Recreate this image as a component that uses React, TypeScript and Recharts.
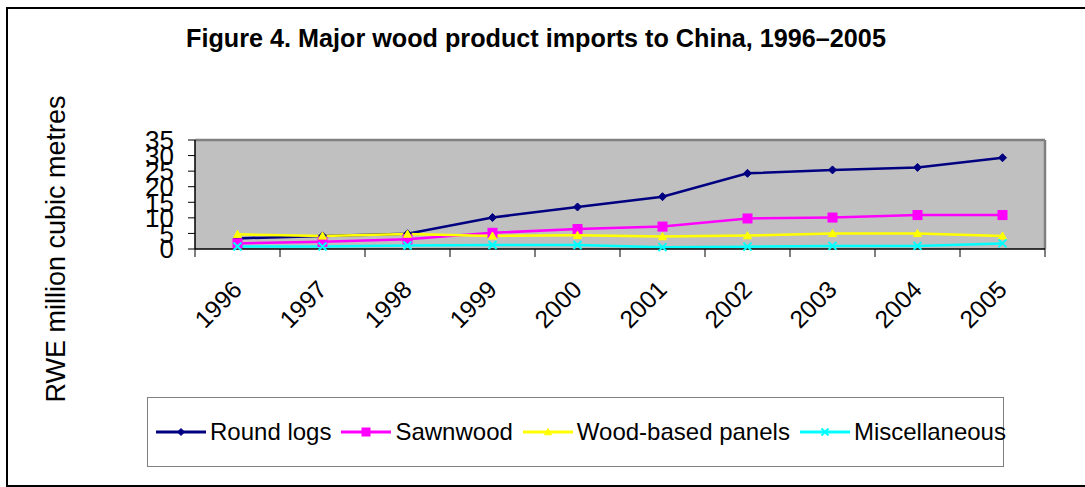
import React from 'react';
import { LineChart, Line, XAxis, YAxis, CartesianGrid, ReferenceLine } from 'recharts';

// Import volumes, RWE million cubic metres
const years = ['1996', '1997', '1998', '1999', '2000', '2001', '2002', '2003', '2004', '2005'];
const roundLogs = [3.4, 4.2, 4.9, 10.1, 13.5, 16.8, 24.3, 25.4, 26.2, 29.3];
const sawnwood = [1.8, 2.3, 3.1, 5.2, 6.4, 7.2, 9.8, 10.1, 10.9, 10.9];
const panels = [4.7, 4.2, 4.8, 4.2, 4.4, 4.0, 4.3, 5.0, 5.0, 4.2];
const misc = [0.8, 0.8, 1.1, 1.3, 1.3, 0.6, 0.75, 1.0, 1.0, 1.8];
const yTicks = [0, 5, 10, 15, 20, 25, 30, 35];

const FONT = '"Liberation Sans", Arial, Helvetica, sans-serif';

type MarkerKind = 'diamond' | 'square' | 'triangle' | 'cross';

const series: { key: string; name: string; color: string; marker: MarkerKind }[] = [
  { key: 'roundLogs', name: 'Round logs', color: '#000080', marker: 'diamond' },
  { key: 'sawnwood', name: 'Sawnwood', color: '#FF00FF', marker: 'square' },
  { key: 'panels', name: 'Wood-based panels', color: '#FFFF00', marker: 'triangle' },
  { key: 'misc', name: 'Miscellaneous', color: '#00FFFF', marker: 'cross' },
];

const data = years.map((year, i) => ({
  pos: i + 0.5,
  year,
  roundLogs: roundLogs[i],
  sawnwood: sawnwood[i],
  panels: panels[i],
  misc: misc[i],
}));

// category boundaries carry tick marks, category centres carry the year labels
const xTicks = years.flatMap((_, i) => [i, i + 0.5]).concat([years.length]);

function Marker({ kind, cx, cy, color, size }: { kind: MarkerKind; cx: number; cy: number; color: string; size: number }) {
  const h = size / 2;
  switch (kind) {
    case 'diamond':
      return <polygon points={`${cx},${cy - h} ${cx + h},${cy} ${cx},${cy + h} ${cx - h},${cy}`} fill={color} stroke={color} strokeWidth={1} />;
    case 'square':
      return <rect x={cx - h} y={cy - h} width={size} height={size} fill={color} stroke={color} strokeWidth={1} />;
    case 'triangle':
      return <polygon points={`${cx},${cy - h} ${cx + h},${cy + h * 0.8} ${cx - h},${cy + h * 0.8}`} fill={color} stroke={color} strokeWidth={1} />;
    case 'cross':
    default:
      return <path d={`M${cx - h},${cy - h}L${cx + h},${cy + h}M${cx + h},${cy - h}L${cx - h},${cy + h}`} stroke={color} strokeWidth={2} fill="none" />;
  }
}

function YearTick(props: any) {
  const { x, y, payload } = props;
  const v = payload.value as number;
  if (Number.isInteger(v)) {
    return <line x1={x} x2={x} y1={y} y2={y + 8} stroke="#000" strokeWidth={1} />;
  }
  const label = years[Math.floor(v)];
  return (
    <text
      transform={`translate(${x + 6},${y + 42}) rotate(-45)`}
      textAnchor="end"
      fontSize={24.5}
      fontFamily={FONT}
      fill="#000"
    >
      {label}
    </text>
  );
}

function LegendIcon({ color, kind }: { color: string; kind: MarkerKind }) {
  return (
    <svg width={50} height={14} style={{ display: 'block' }}>
      <line x1={0} x2={50} y1={7} y2={7} stroke={color} strokeWidth={3} />
      <Marker kind={kind} cx={25} cy={7} color={color} size={kind === 'square' ? 8 : 7} />
    </svg>
  );
}

export default function App() {
  return (
    <div
      style={{
        position: 'fixed',
        left: 0,
        top: 0,
        width: 1085,
        height: 487,
        overflow: 'hidden',
        background: '#fff',
        fontFamily: FONT,
      }}
    >
      <div
        style={{
          position: 'absolute',
          left: 6,
          top: 7,
          width: 1200,
          height: 480,
          border: '2px solid #000',
          boxSizing: 'border-box',
        }}
      />
      <div style={{ position: 'absolute', left: 0, top: 0 }}>
        <LineChart width={1085} height={487} data={data} margin={{ top: 140, right: 40, bottom: 138, left: 0 }}>
          <CartesianGrid horizontal={false} vertical={false} fill="#C0C0C0" />
          <XAxis
            type="number"
            dataKey="pos"
            domain={[0, years.length]}
            ticks={xTicks}
            interval={0}
            allowDataOverflow
            tickLine={false}
            tickSize={0}
            tickMargin={0}
            tick={<YearTick />}
            axisLine={{ stroke: '#000', strokeWidth: 1.5 }}
            height={100}
          />
          <YAxis
            type="number"
            domain={[0, 35]}
            ticks={yTicks}
            interval={0}
            width={195}
            tickSize={7}
            tickMargin={14}
            tick={{ fontSize: 26, fill: '#000', fontFamily: FONT }}
            tickLine={{ stroke: '#000', strokeWidth: 1 }}
            axisLine={{ stroke: '#000', strokeWidth: 1.5 }}
          />
          <ReferenceLine y={35} stroke="#808080" strokeWidth={2.5} />
          <ReferenceLine x={years.length} stroke="#808080" strokeWidth={2.5} />
          {series.map((s) => (
            <Line
              key={s.key}
              type="linear"
              dataKey={s.key}
              name={s.name}
              stroke={s.color}
              strokeWidth={2.5}
              isAnimationActive={false}
              activeDot={false}
              dot={(p: any) => (
                <Marker key={`${s.key}-${p.index}`} kind={s.marker} cx={p.cx} cy={p.cy} color={s.color} size={s.marker === 'square' ? 9 : 8} />
              )}
            />
          ))}
        </LineChart>
      </div>
      <svg width={1085} height={487} style={{ position: 'absolute', left: 0, top: 0, pointerEvents: 'none' }}>
        <text x={536} y={47} textAnchor="middle" fontSize={25.2} fontWeight="bold" fontFamily={FONT} fill="#000">
          Figure 4. Major wood product imports to China, 1996–2005
        </text>
        <text transform="translate(65,249) rotate(-90)" textAnchor="middle" fontSize={27} fontFamily={FONT} fill="#000">
          RWE million cubic metres
        </text>
      </svg>
      <div
        style={{
          position: 'absolute',
          left: 147,
          top: 397,
          width: 857,
          height: 70,
          border: '1px solid #808080',
          boxSizing: 'border-box',
          display: 'flex',
          alignItems: 'center',
          paddingLeft: 8,
          whiteSpace: 'nowrap',
        }}
      >
        {series.map((s) => (
          <div key={s.key} style={{ display: 'flex', alignItems: 'center', marginRight: 10 }}>
            <LegendIcon color={s.color} kind={s.marker} />
            <span style={{ fontSize: 24, marginLeft: 4, color: '#000', lineHeight: 1 }}>{s.name}</span>
          </div>
        ))}
      </div>
    </div>
  );
}
